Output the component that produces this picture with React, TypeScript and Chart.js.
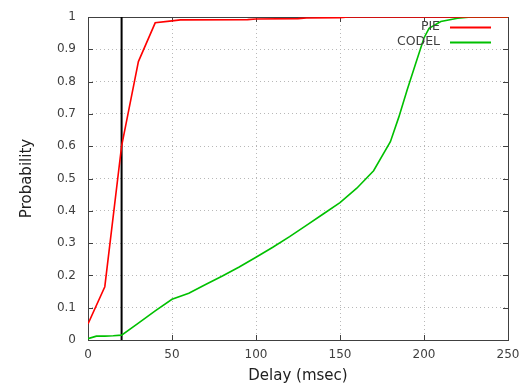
import React, { useEffect, useRef } from "react";
import { Chart, registerables } from "chart.js";

Chart.register(...registerables);

const pieDelay = [0, 10, 20, 30, 40, 50, 55, 95, 100, 125, 130, 150, 155, 250];
const pieProb = [0.05, 0.165, 0.6, 0.862, 0.982, 0.988, 0.991, 0.992, 0.994, 0.995, 0.997, 0.998, 1.0, 1.0];

const codelDelay = [0, 5, 10, 15, 20, 30, 40, 50, 60, 70, 80, 90, 100, 110, 120, 130, 140, 150, 160, 170, 180, 185, 190, 195, 200, 203, 210, 220, 228, 250];
const codelProb = [0.004, 0.012, 0.012, 0.013, 0.015, 0.052, 0.09, 0.126, 0.145, 0.172, 0.198, 0.226, 0.256, 0.287, 0.32, 0.355, 0.39, 0.425, 0.47, 0.524, 0.614, 0.69, 0.775, 0.855, 0.935, 0.965, 0.986, 0.996, 1.0, 1.0];

const markerDelay = [20, 20];
const markerProb = [0, 1];

const seriesNames = ["PIE", "CODEL"];
const seriesColors = ["#ff0000", "#00c000"];

const xTicks = [0, 50, 100, 150, 200, 250];
const yStep = 0.1;

const FONT = "'DejaVu Sans', sans-serif";

const toPts = (xs: number[], ys: number[]) => xs.map((x, i) => ({ x, y: ys[i] }));

const framePlugin = {
  id: "frame",
  beforeDatasetsDraw(chart: any) {
    const { ctx, chartArea: a, scales } = chart;
    ctx.save();
    ctx.strokeStyle = "#404040";
    ctx.lineWidth = 1;
    ctx.strokeRect(Math.round(a.left) + 0.5, Math.round(a.top) + 0.5, Math.round(a.right - a.left), Math.round(a.bottom - a.top));
    const tl = 5;
    ctx.beginPath();
    xTicks.forEach((v) => {
      const px = Math.round(scales.x.getPixelForValue(v)) + 0.5;
      ctx.moveTo(px, a.bottom);
      ctx.lineTo(px, a.bottom - tl);
      ctx.moveTo(px, a.top);
      ctx.lineTo(px, a.top + tl);
    });
    for (let i = 0; i <= 10; i++) {
      const py = Math.round(scales.y.getPixelForValue(i * yStep)) + 0.5;
      ctx.moveTo(a.left, py);
      ctx.lineTo(a.left + tl, py);
      ctx.moveTo(a.right, py);
      ctx.lineTo(a.right - tl, py);
    }
    ctx.stroke();
    ctx.restore();
  },
  afterDatasetsDraw(chart: any) {
    const { ctx } = chart;
    ctx.save();
    ctx.font = `12.5px ${FONT}`;
    ctx.fillStyle = "#404040";
    ctx.textAlign = "right";
    ctx.textBaseline = "middle";
    const rows = [27, 42];
    seriesNames.forEach((name, i) => {
      ctx.fillText(name, 440, rows[i]);
      ctx.strokeStyle = seriesColors[i];
      ctx.lineWidth = 2;
      ctx.beginPath();
      ctx.moveTo(450, rows[i] + 0.5);
      ctx.lineTo(491, rows[i] + 0.5);
      ctx.stroke();
    });
    ctx.restore();
  },
};

export default function App() {
  const ref = useRef<HTMLCanvasElement>(null);
  useEffect(() => {
    const chart = new Chart(ref.current!, {
      type: "line",
      data: {
        datasets: [
          {
            label: seriesNames[0],
            data: toPts(pieDelay, pieProb),
            borderColor: seriesColors[0],
            borderWidth: 1.6,
            pointRadius: 0,
            tension: 0,
            fill: false,
          },
          {
            label: seriesNames[1],
            data: toPts(codelDelay, codelProb),
            borderColor: seriesColors[1],
            borderWidth: 1.6,
            pointRadius: 0,
            tension: 0,
            fill: false,
          },
          {
            label: "marker",
            data: toPts(markerDelay, markerProb),
            borderColor: "#000000",
            borderWidth: 2,
            pointRadius: 0,
            tension: 0,
            fill: false,
          },
        ],
      },
      options: {
        responsive: false,
        animation: false,
        parsing: false as any,
        layout: { padding: { left: 0, right: 11, top: 17, bottom: 0 } },
        plugins: { legend: { display: false }, tooltip: { enabled: false } },
        scales: {
          x: {
            type: "linear",
            min: 0,
            max: 250,
            afterFit: (s: any) => { s.height = 47; s.paddingLeft = 0; s.paddingRight = 0; },
            grid: { color: "#b8b8b8", drawTicks: false, lineWidth: 1 },
            border: { display: false, dash: [1, 3] },
            ticks: {
              stepSize: 50,
              padding: 8,
              color: "#404040",
              font: { family: FONT, size: 12 },
              maxRotation: 0,
            },
            title: {
              display: true,
              text: "Delay (msec)",
              color: "#202020",
              font: { family: FONT, size: 15 },
              padding: { top: 0, bottom: 2 },
            },
          },
          y: {
            type: "linear",
            min: 0,
            max: 1,
            afterFit: (s: any) => { s.width = 88; s.paddingTop = 0; s.paddingBottom = 0; },
            grid: { color: "#b8b8b8", drawTicks: false, lineWidth: 1 },
            border: { display: false, dash: [1, 3] },
            ticks: {
              stepSize: yStep,
              padding: 12,
              color: "#404040",
              font: { family: FONT, size: 12 },
              callback: (v: any) => String(Math.round(Number(v) * 10) / 10),
            },
            title: {
              display: true,
              text: "Probability",
              color: "#202020",
              font: { family: FONT, size: 15 },
              padding: { top: 18, bottom: 0 },
            },
          },
        },
      },
      plugins: [framePlugin],
    });
    return () => chart.destroy();
  }, []);
  return (
    <div style={{ position: "fixed", left: 0, top: 0, width: 519, height: 387, background: "#fff" }}>
      <canvas ref={ref} width={519} height={387} style={{ display: "block" }} />
    </div>
  );
}
